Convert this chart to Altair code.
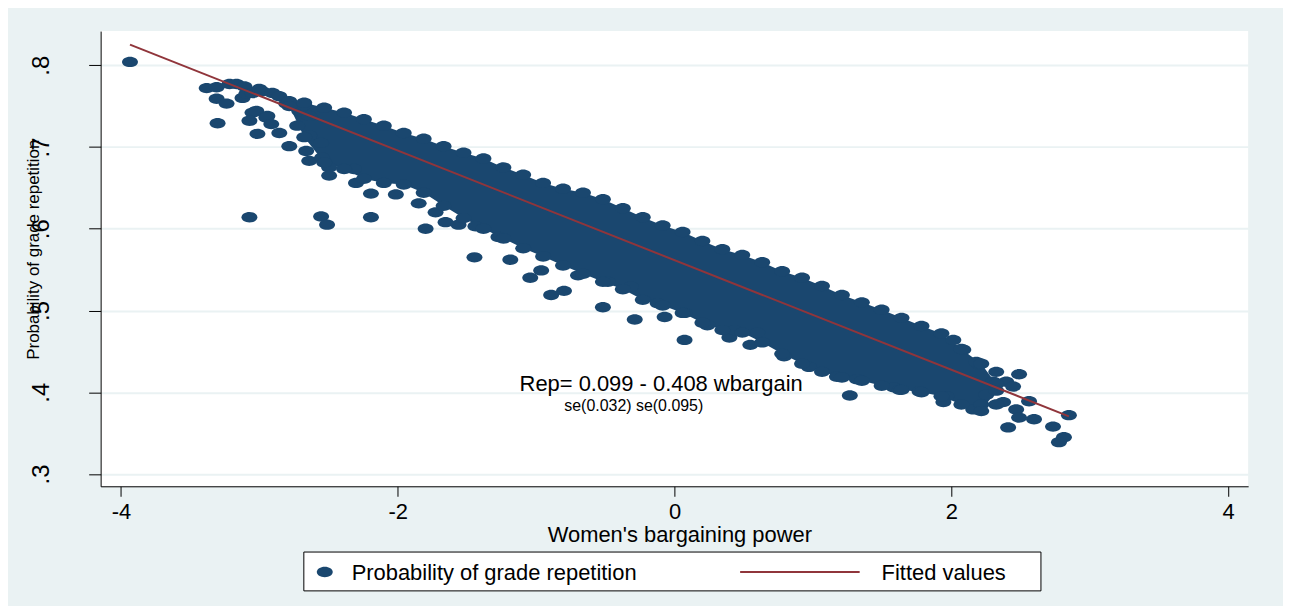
import altair as alt
import pandas as pd

# ---------------- data ----------------
# dense core of the scatter: upper / lower marker-centre envelopes at x stations
band_x = [-2.784, -2.676, -2.532, -2.388, -2.245, -2.101, -1.957, -1.813, -1.669, -1.525, -1.381,
          -1.237, -1.094, -0.950, -0.806, -0.662, -0.518, -0.374, -0.230, -0.086, 0.058,
          0.201, 0.345, 0.489, 0.633, 0.777, 0.921, 1.065, 1.209, 1.353, 1.496,
          1.640, 1.784, 1.928, 2.072, 2.216, 2.324]
band_upper = [0.756, 0.754, 0.748, 0.742, 0.734, 0.726, 0.717, 0.710, 0.701, 0.693, 0.686,
              0.675, 0.666, 0.656, 0.649, 0.644, 0.636, 0.625, 0.614, 0.604, 0.596,
              0.585, 0.575, 0.568, 0.559, 0.548, 0.540, 0.530, 0.519, 0.510, 0.501,
              0.491, 0.481, 0.472, 0.453, 0.435, 0.410]
band_lower = [0.750, 0.712, 0.681, 0.673, 0.661, 0.656, 0.654, 0.644, 0.628, 0.613, 0.600,
              0.588, 0.576, 0.566, 0.555, 0.545, 0.535, 0.526, 0.513, 0.506, 0.497,
              0.485, 0.476, 0.473, 0.461, 0.447, 0.435, 0.425, 0.418, 0.414, 0.408,
              0.403, 0.400, 0.395, 0.385, 0.377, 0.402]

# individual points (x, y)
left_cluster = [(-3.381, 0.772), (-3.309, 0.773), (-3.216, 0.777), (-3.165, 0.777), (-3.108, 0.774),
                (-3.309, 0.759), (-3.237, 0.753), (-3.302, 0.729), (-3.122, 0.760), (-3.094, 0.765),
                (-3.050, 0.766), (-3.000, 0.771), (-2.978, 0.768), (-2.906, 0.766), (-2.856, 0.762),
                (-2.806, 0.753), (-2.784, 0.754), (-3.050, 0.742), (-3.022, 0.744), (-3.072, 0.732),
                (-3.014, 0.716), (-2.942, 0.738), (-2.950, 0.736), (-2.914, 0.728), (-2.856, 0.717),
                (-2.784, 0.701), (-2.712, 0.744), (-2.676, 0.751), (-2.640, 0.738), (-2.727, 0.726),
                (-2.640, 0.714), (-2.554, 0.705), (-2.662, 0.695), (-2.640, 0.683), (-2.547, 0.687),
                (-2.496, 0.675), (-2.496, 0.665), (-2.317, 0.673), (-2.302, 0.656), (-2.194, 0.643)]
lower_edge = [(-2.014, 0.642), (-1.849, 0.631), (-1.727, 0.620), (-1.799, 0.600), (-1.655, 0.608),
              (-1.561, 0.605), (-1.439, 0.603), (-1.273, 0.590), (-1.187, 0.562), (-0.964, 0.549),
              (-1.043, 0.540), (-0.892, 0.519), (-0.799, 0.524), (-0.698, 0.543), (-0.482, 0.535),
              (-0.317, 0.529), (-0.518, 0.504), (-0.288, 0.489), (-0.122, 0.509), (-0.072, 0.492),
              (0.072, 0.497), (0.072, 0.464), (0.237, 0.482), (0.396, 0.467), (0.432, 0.476),
              (0.547, 0.458), (0.597, 0.473), (0.791, 0.444), (0.971, 0.431), (1.173, 0.419),
              (1.266, 0.396), (1.317, 0.416), (1.583, 0.406), (1.770, 0.401), (1.964, 0.395),
              (1.626, 0.403), (1.942, 0.388), (2.158, 0.379), (2.410, 0.357)]
outliers = [(-3.935, 0.804), (-3.072, 0.614), (-2.554, 0.615), (-2.511, 0.605), (-2.194, 0.614),
            (-1.446, 0.565)]
right_end = [(2.014, 0.464), (2.086, 0.452), (2.201, 0.434), (2.324, 0.425), (2.180, 0.437),
             (2.302, 0.413), (2.489, 0.422), (2.396, 0.413), (2.446, 0.407), (2.561, 0.389),
             (2.374, 0.388), (2.468, 0.379), (2.489, 0.369), (2.597, 0.367), (2.734, 0.358),
             (2.849, 0.372), (2.813, 0.345), (2.777, 0.339), (2.252, 0.397), (2.324, 0.385),
             (2.216, 0.385)]

# fitted line end points
fit_x = [-3.935, 2.849]
fit_y = [0.8252, 0.3706]

x_ticks = [-4, -2, 0, 2, 4]
y_ticks = [0.3, 0.4, 0.5, 0.6, 0.7, 0.8]

annot_text = ["Rep= 0.099 - 0.408 wbargain", "se(0.032)  se(0.095)"]
annot_x = [-0.097, -0.295]
annot_y = [0.401, 0.377]

legend_labels = ["Probability of grade repetition", "Fitted values"]
x_title = "Women's bargaining power"
y_title = "Probability of grade repetition"

# ---------------- styling ----------------
NAVY = "#1A476F"
MAROON = "#90353B"
BG = "#EAF2F3"
FONT = "Liberation Sans"
ELLIPSE = ("M-1,0C-1,-0.359,-0.552,-0.65,0,-0.65C0.552,-0.65,1,-0.359,1,0"
           "C1,0.359,0.552,0.65,0,0.65C-0.552,0.65,-1,0.359,-1,0Z")

xs = alt.Scale(domain=[-4.147, 4.144], nice=False, zero=False)
ys = alt.Scale(domain=[0.285, 0.8417], nice=False, zero=False)

xax = alt.Axis(values=x_ticks, grid=False, labelExpr="datum.value + ''",
               domainColor="black", domainWidth=1, tickColor="black", tickSize=10, tickWidth=1,
               labelFont=FONT, labelFontSize=22, labelColor="black", labelPadding=5,
               labelOverlap=False, titleFont=FONT, titleFontSize=22, titleFontWeight="normal",
               titleColor="black", titleX=581, titleY=55, titleBaseline="alphabetic",
               titleAlign="center")
yax = alt.Axis(values=y_ticks, labelExpr="replace(format(datum.value, '.1f'), '0.', '.')",
               grid=True, gridColor=BG, gridWidth=2,
               domainColor="black", domainWidth=1, tickColor="black", tickSize=12, tickWidth=1,
               labelFont=FONT, labelFontSize=24, labelColor="black", labelAngle=270,
               labelAlign="center", labelBaseline="alphabetic", labelPadding=40,
               labelOverlap=False, titleFont=FONT, titleFontSize=17, titleFontWeight="normal",
               titleColor="black", titleAngle=270, titleX=-62, titleY=219,
               titleAlign="center", titleBaseline="alphabetic")


def X(field):
    return alt.X(field, type="quantitative", scale=xs, axis=xax, title=x_title)


def Y(field):
    return alt.Y(field, type="quantitative", scale=ys, axis=yax, title=y_title)


band_df = pd.DataFrame({"x": band_x, "upper": band_upper, "lower": band_lower})
all_pts = left_cluster + lower_edge + outliers + right_end
pts_df = pd.DataFrame({
    "x": [p[0] for p in all_pts] + band_x + band_x,
    "y": [p[1] for p in all_pts] + band_upper + band_lower,
})
fit_df = pd.DataFrame({"x": fit_x, "y": fit_y})
ann1 = pd.DataFrame({"x": [annot_x[0]], "y": [annot_y[0]], "t": [annot_text[0]]})
ann2 = pd.DataFrame({"x": [annot_x[1]], "y": [annot_y[1]], "t": [annot_text[1]]})

band = alt.Chart(band_df).mark_area(color=NAVY, opacity=1, interpolate="linear").encode(
    x=X("x"), y=Y("upper"), y2="lower")

points = alt.Chart(pts_df).mark_point(shape=ELLIPSE, filled=True, size=256, color=NAVY,
                                      opacity=1, strokeWidth=0).encode(x=X("x"), y=Y("y"))

fit = alt.Chart(fit_df).mark_line(color=MAROON, strokeWidth=2).encode(x=X("x"), y=Y("y"))

txt1 = alt.Chart(ann1).mark_text(font=FONT, fontSize=22, align="center", baseline="alphabetic",
                                 color="black").encode(x=X("x"), y=Y("y"), text="t:N")
txt2 = alt.Chart(ann2).mark_text(font=FONT, fontSize=16, align="center", baseline="alphabetic",
                                 color="black").encode(x=X("x"), y=Y("y"), text="t:N")

# ---------------- legend (drawn below the plot) ----------------
one = pd.DataFrame({"k": [0]})
leg1 = pd.DataFrame({"label": [legend_labels[0]]})
leg2 = pd.DataFrame({"label": [legend_labels[1]]})

leg_box = alt.Chart(one).mark_rect(fill="white", stroke="black", strokeWidth=1).encode(
    x=alt.value(204), x2=alt.value(944), y=alt.value(523), y2=alt.value(562))
leg_marker = alt.Chart(one).mark_point(shape=ELLIPSE, filled=True, size=256, color=NAVY,
                                       opacity=1, strokeWidth=0).encode(
    x=alt.value(225), y=alt.value(543))
leg_line = alt.Chart(one).mark_rule(color=MAROON, strokeWidth=2).encode(
    x=alt.value(642), x2=alt.value(762), y=alt.value(543))
leg_t1 = alt.Chart(leg1).mark_text(font=FONT, fontSize=22, align="left", baseline="alphabetic",
                                   color="black").encode(
    x=alt.value(252), y=alt.value(551), text="label:N")
leg_t2 = alt.Chart(leg2).mark_text(font=FONT, fontSize=22, align="left", baseline="alphabetic",
                                   color="black").encode(
    x=alt.value(784), y=alt.value(551), text="label:N")

chart = alt.layer(band, points, fit, txt1, txt2,
                  leg_box, leg_marker, leg_line, leg_t1, leg_t2).properties(
    width=1152, height=457,
    autosize=alt.AutoSizeParams(type="none"),
    padding={"left": 93, "top": 22, "right": 35, "bottom": 119},
    background=BG,
).configure_view(fill="white", strokeWidth=0)

chart.save("out.html", embed_options={"renderer": "svg", "actions": False})
